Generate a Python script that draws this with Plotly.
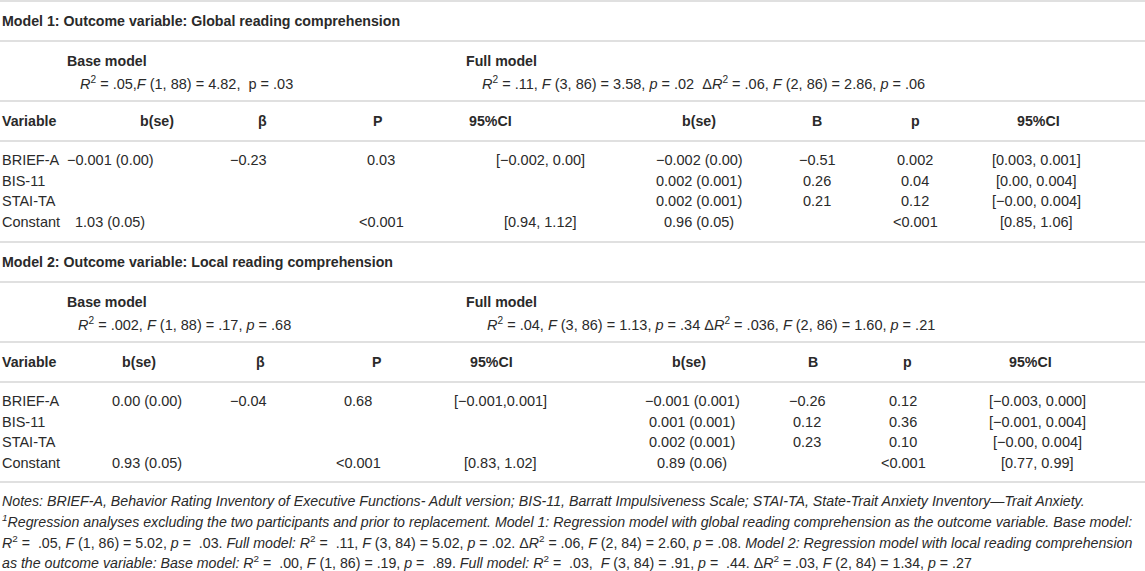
import plotly.graph_objects as go

# ---- data ----
variables = ["BRIEF-A", "BIS-11", "STAI-TA", "Constant"]
headers = ["Variable", "b(se)", "β", "P", "95%CI", "b(se)", "B", "p", "95%CI"]

m1_title = "Model 1: Outcome variable: Global reading comprehension"
m1_base_stats = "<i>R</i><sup>2</sup> = .05,<i>F</i> (1, 88) = 4.82,  p = .03"
m1_full_stats = ("<i>R</i><sup>2</sup> = .11, <i>F</i> (3, 86) = 3.58, <i>p</i> = .02  "
                 "Δ<i>R</i><sup>2</sup> = .06, <i>F</i> (2, 86) = 2.86, <i>p</i> = .06")
m1_base_bse = ["−0.001 (0.00)", "", "", "1.03 (0.05)"]
m1_base_beta = ["−0.23", "", "", ""]
m1_base_p = ["0.03", "", "", "<0.001"]
m1_base_ci = ["[−0.002, 0.00]", "", "", "[0.94, 1.12]"]
m1_full_bse = ["−0.002 (0.00)", "0.002 (0.001)", "0.002 (0.001)", "0.96 (0.05)"]
m1_full_b = ["−0.51", "0.26", "0.21", ""]
m1_full_p = ["0.002", "0.04", "0.12", "<0.001"]
m1_full_ci = ["[0.003, 0.001]", "[0.00, 0.004]", "[−0.00, 0.004]", "[0.85, 1.06]"]

m2_title = "Model 2: Outcome variable: Local reading comprehension"
m2_base_stats = "<i>R</i><sup>2</sup> = .002, <i>F</i> (1, 88) = .17, <i>p</i> = .68"
m2_full_stats = ("<i>R</i><sup>2</sup> = .04, <i>F</i> (3, 86) = 1.13, <i>p</i> = .34 "
                 "Δ<i>R</i><sup>2</sup> = .036, <i>F</i> (2, 86) = 1.60, <i>p</i> = .21")
m2_base_bse = ["0.00 (0.00)", "", "", "0.93 (0.05)"]
m2_base_beta = ["−0.04", "", "", ""]
m2_base_p = ["0.68", "", "", "<0.001"]
m2_base_ci = ["[−0.001,0.001]", "", "", "[0.83, 1.02]"]
m2_full_bse = ["−0.001 (0.001)", "0.001 (0.001)", "0.002 (0.001)", "0.89 (0.06)"]
m2_full_b = ["−0.26", "0.12", "0.23", ""]
m2_full_p = ["0.12", "0.36", "0.10", "<0.001"]
m2_full_ci = ["[−0.003, 0.000]", "[−0.001, 0.004]", "[−0.00, 0.004]", "[0.77, 0.99]"]

notes = [
    "<i>Notes: BRIEF-A, Behavior Rating Inventory of Executive Functions- Adult version; BIS-11, "
    "Barratt Impulsiveness Scale; STAI-TA, State-Trait Anxiety Inventory—Trait Anxiety.</i>",
    "<i><sup>1</sup>Regression analyses excluding the two participants and prior to replacement. "
    "Model 1: Regression model with global reading comprehension as the outcome variable. Base model:</i>",
    "<i>R</i><sup>2</sup> =  .05, <i>F</i> (1, 86) = 5.02, <i>p</i> =  .03. <i>Full model:</i> "
    "<i>R</i><sup>2</sup> =  .11, <i>F</i> (3, 84) = 5.02, <i>p</i> = .02. Δ<i>R</i><sup>2</sup> = .06, "
    "<i>F</i> (2, 84) = 2.60, <i>p</i> = .08. <i>Model 2: Regression model with local reading comprehension</i>",
    "<i>as the outcome variable: Base model:</i> <i>R</i><sup>2</sup> =  .00, <i>F</i> (1, 86) = .19, "
    "<i>p</i> =  .89. <i>Full model:</i> <i>R</i><sup>2</sup> =  .03,  <i>F</i> (3, 84) = .91, "
    "<i>p</i> =  .44. Δ<i>R</i><sup>2</sup> = .03, <i>F</i> (2, 84) = 1.34, <i>p</i> = .27",
]

# ---- layout ----
W, H = 1145, 571
FONT = "Liberation Sans"
TXT = "#2a2a2a"
LINE = "#d6d6d6"

fig = go.Figure()
fig.add_trace(go.Scatter(x=[0, W], y=[0, H], mode="markers",
                         marker=dict(opacity=0), hoverinfo="skip", showlegend=False))


def txt(x, y, s, bold=False, anchor="left", size=14.5):
    if not s:
        return
    fig.add_annotation(x=x, y=y, text=f"<b>{s}</b>" if bold else s, showarrow=False,
                       xanchor=anchor, yanchor="middle",
                       font=dict(family=FONT, size=size, color=TXT))


def hline(y):
    fig.add_shape(type="line", x0=0, x1=W, y0=y, y1=y, line=dict(color=LINE, width=1.5))


def block(top, title, base_stats, full_stats, cols, head_x, cell_x, stats_x):
    hline(top)
    txt(0, top + 20, title, bold=True, size=14.2)
    hline(top + 40)
    txt(65, top + 60, "Base model", bold=True, size=14.2)
    txt(464, top + 60, "Full model", bold=True, size=14.2)
    txt(stats_x[0], top + 82, base_stats)
    txt(stats_x[1], top + 82, full_stats)
    hline(top + 100)
    for i, h in enumerate(headers):
        txt(head_x[i], top + 120, h, bold=True, size=14.2,
            anchor="left" if i == 0 else "center")
    hline(top + 140)
    for r, v in enumerate(variables):
        y = top + 159 + r * 20.7
        txt(0, y, v)
        for c, col in enumerate(cols):
            txt(cell_x[c], y, col[r], anchor="center")


block(1, m1_title, m1_base_stats, m1_full_stats,
      [m1_base_bse, m1_base_beta, m1_base_p, m1_base_ci,
       m1_full_bse, m1_full_b, m1_full_p, m1_full_ci],
      [0, 157, 262, 377, 490, 699, 817, 915, 1038],
      [110, 248, 381, 540, 699, 817, 915, 1036],
      [78, 480])
block(242, m2_title, m2_base_stats, m2_full_stats,
      [m2_base_bse, m2_base_beta, m2_base_p, m2_base_ci,
       m2_full_bse, m2_full_b, m2_full_p, m2_full_ci],
      [0, 139, 260, 376, 491, 689, 813, 907, 1030],
      [147, 248, 358, 500, 692, 807, 903, 1037],
      [76, 485])
hline(482)

for i, n in enumerate(notes):
    txt(0, 501 + i * 20.3, n, size=14.2)

fig.update_xaxes(range=[0, W], visible=False, fixedrange=True)
fig.update_yaxes(range=[H, 0], visible=False, fixedrange=True)
fig.update_layout(width=W, height=H, margin=dict(l=0, r=0, t=0, b=0),
                  plot_bgcolor="white", paper_bgcolor="white")

# the page's default body margin would shift the table by 8px
fig.write_html("out.html", config={"displayModeBar": False},
               post_script="document.body.style.margin='0';"
               "document.body.style.overflow='hidden';")
